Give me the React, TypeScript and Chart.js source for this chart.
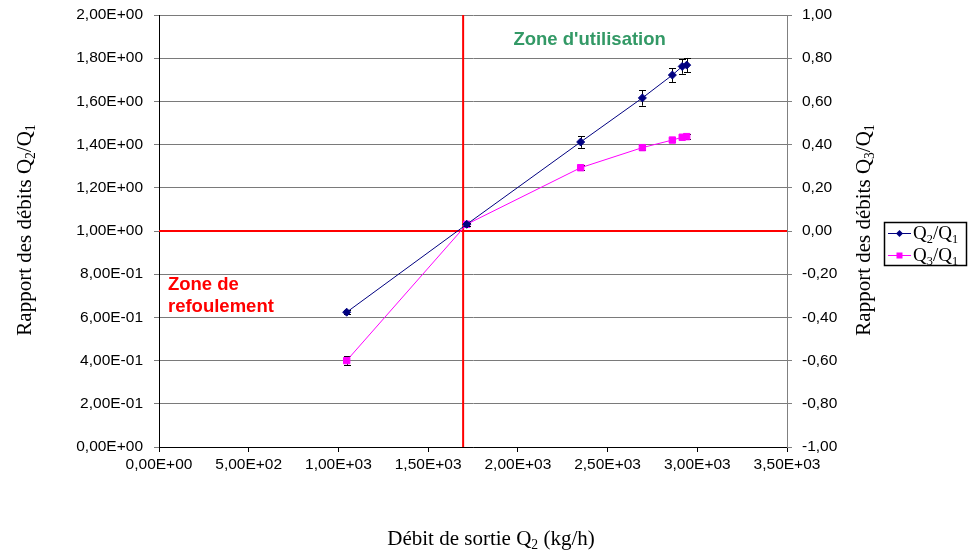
import React, { useEffect, useRef } from "react";
import { Chart, registerables } from "chart.js";

Chart.register(...registerables);

// ---- Data ----
const debitQ2 = [1046, 1715, 2350, 2694, 2861, 2916, 2941];
const rapportQ2Q1 = [0.624, 1.031, 1.412, 1.616, 1.722, 1.762, 1.768];
const rapportQ3Q1 = [-0.6, 0.031, 0.293, 0.386, 0.421, 0.434, 0.437];
const errQ2Q1 = [0.008, 0.008, 0.027, 0.036, 0.032, 0.034, 0.033];
const errQ3Q1 = [0.02, 0.008, 0.012, 0.01, 0.01, 0.01, 0.01];
const limiteDebit = 1695;
const limiteRapport = 1.0;

const xTicksRange = [0, 3500, 500];
const yLeftRange = [0, 2, 0.2];
const yRightRange = [-1, 1, 0.2];

const zoneUtilisation = { text: "Zone d'utilisation", x: 2400, y: 1.885 };
const zoneRefoulement = [
  { text: "Zone de", x: 50, y: 0.752 },
  { text: "refoulement", x: 50, y: 0.65 },
];

type Part = { t: string; sub?: boolean };
const leftTitle: Part[] = [{ t: "Rapport des débits Q" }, { t: "2", sub: true }, { t: "/Q" }, { t: "1", sub: true }];
const rightTitle: Part[] = [{ t: "Rapport des débits Q" }, { t: "3", sub: true }, { t: "/Q" }, { t: "1", sub: true }];
const bottomTitle: Part[] = [{ t: "Débit de sortie Q" }, { t: "2", sub: true }, { t: " (kg/h)" }];
const legendQ2: Part[] = [{ t: "Q" }, { t: "2", sub: true }, { t: "/Q" }, { t: "1", sub: true }];
const legendQ3: Part[] = [{ t: "Q" }, { t: "3", sub: true }, { t: "/Q" }, { t: "1", sub: true }];

const SERIF = "'Liberation Serif', 'Times New Roman', serif";
const SANS = "'Liberation Sans', Arial, sans-serif";

function sci(v: number): string {
  if (Math.abs(v) < 1e-12) return "0,00E+00";
  const [m, e] = v.toExponential(2).split("e");
  const n = parseInt(e, 10);
  return m.replace(".", ",") + "E" + (n < 0 ? "-" : "+") + String(Math.abs(n)).padStart(2, "0");
}
function dec(v: number): string {
  let r = Math.round(v * 100) / 100;
  if (Math.abs(r) < 1e-9) r = 0;
  return r.toFixed(2).replace(".", ",");
}

function richWidth(ctx: CanvasRenderingContext2D, parts: Part[], size: number) {
  let w = 0;
  for (const p of parts) {
    ctx.font = `${p.sub ? size * 0.65 : size}px ${SERIF}`;
    w += ctx.measureText(p.t).width;
  }
  return w;
}
function drawRich(ctx: CanvasRenderingContext2D, parts: Part[], x: number, cy: number, size: number, align: "left" | "center") {
  const w = richWidth(ctx, parts, size);
  let cx = align === "center" ? x - w / 2 : x;
  const base = cy + size * 0.33;
  ctx.textAlign = "left";
  ctx.textBaseline = "alphabetic";
  ctx.fillStyle = "#000";
  for (const p of parts) {
    const s = p.sub ? size * 0.65 : size;
    ctx.font = `${s}px ${SERIF}`;
    ctx.fillText(p.t, cx, p.sub ? base + size * 0.18 : base);
    cx += ctx.measureText(p.t).width;
  }
}

const errorBarsPlugin = {
  id: "errorBars",
  beforeDatasetDraw(chart: any, args: any) {
    const ds = chart.data.datasets[args.index];
    if (!ds.errors) return;
    const meta = args.meta;
    const yScale = chart.scales[ds.yAxisID];
    const ctx = chart.ctx;
    ctx.save();
    ctx.strokeStyle = "#000";
    ctx.lineWidth = 1;
    meta.data.forEach((pt: any, i: number) => {
      const v = ds.data[i].y;
      const e = ds.errors[i];
      const y1 = yScale.getPixelForValue(v + e);
      const y2 = yScale.getPixelForValue(v - e);
      const x = Math.round(pt.x) + 0.5;
      ctx.beginPath();
      ctx.moveTo(x, y1);
      ctx.lineTo(x, y2);
      ctx.moveTo(x - 3.5, Math.round(y1) + 0.5);
      ctx.lineTo(x + 3.5, Math.round(y1) + 0.5);
      ctx.moveTo(x - 3.5, Math.round(y2) + 0.5);
      ctx.lineTo(x + 3.5, Math.round(y2) + 0.5);
      ctx.stroke();
    });
    ctx.restore();
  },
};

const decorPlugin = {
  id: "decor",
  afterDraw(chart: any) {
    const ctx: CanvasRenderingContext2D = chart.ctx;
    const xs = chart.scales.x;
    const yl = chart.scales.y;
    ctx.save();
    // zone labels
    ctx.textBaseline = "middle";
    ctx.font = `bold 18.5px ${SANS}`;
    ctx.fillStyle = "#339966";
    ctx.textAlign = "center";
    ctx.fillText(zoneUtilisation.text, xs.getPixelForValue(zoneUtilisation.x), yl.getPixelForValue(zoneUtilisation.y));
    ctx.font = `bold 18.5px ${SANS}`;
    ctx.fillStyle = "#ff0000";
    ctx.textAlign = "left";
    for (const z of zoneRefoulement) {
      ctx.fillText(z.text, xs.getPixelForValue(z.x), yl.getPixelForValue(z.y));
    }
    // axis titles
    const ca = chart.chartArea;
    const midY = (ca.top + ca.bottom) / 2 - 1;
    ctx.save();
    ctx.translate(24, midY);
    ctx.rotate(-Math.PI / 2);
    drawRich(ctx, leftTitle, 0, 0, 21, "center");
    ctx.restore();
    ctx.save();
    ctx.translate(863, midY);
    ctx.rotate(-Math.PI / 2);
    drawRich(ctx, rightTitle, 0, 0, 21, "center");
    ctx.restore();
    drawRich(ctx, bottomTitle, 491, 538, 21, "center");
    // legend
    ctx.strokeStyle = "#000";
    ctx.lineWidth = 1.5;
    ctx.strokeRect(884.5, 222.5, 82, 43);
    const items = [
      { parts: legendQ2, ds: chart.data.datasets[0], y: 233 },
      { parts: legendQ3, ds: chart.data.datasets[1], y: 255 },
    ];
    for (const it of items) {
      ctx.strokeStyle = it.ds.borderColor;
      ctx.lineWidth = 1;
      ctx.beginPath();
      ctx.moveTo(888, it.y + 0.5);
      ctx.lineTo(911, it.y + 0.5);
      ctx.stroke();
      ctx.fillStyle = it.ds.pointBackgroundColor;
      ctx.beginPath();
      if (it.ds.pointStyle === "rectRot") {
        ctx.moveTo(899.5, it.y - 3);
        ctx.lineTo(903, it.y + 0.5);
        ctx.lineTo(899.5, it.y + 4);
        ctx.lineTo(896, it.y + 0.5);
        ctx.closePath();
      } else {
        ctx.rect(896.5, it.y - 2.5, 6, 6);
      }
      ctx.fill();
      drawRich(ctx, it.parts, 913, it.y, 19, "left");
    }
    ctx.restore();
  },
};

export default function App() {
  const ref = useRef<HTMLCanvasElement | null>(null);
  useEffect(() => {
    if (!ref.current) return;
    const tickFont = { family: SANS, size: 15.5 };
    const chart = new Chart(ref.current, {
      type: "line",
      data: {
        datasets: [
          {
            label: "Q2/Q1",
            data: debitQ2.map((x, i) => ({ x, y: rapportQ2Q1[i] })),
            yAxisID: "y",
            borderColor: "#000080",
            backgroundColor: "#000080",
            pointBackgroundColor: "#000080",
            pointBorderColor: "#000080",
            pointStyle: "rectRot",
            pointRadius: 4,
            borderWidth: 1,
            errors: errQ2Q1,
          } as any,
          {
            label: "Q3/Q1",
            data: debitQ2.map((x, i) => ({ x, y: rapportQ3Q1[i] })),
            yAxisID: "y1",
            borderColor: "#ff00ff",
            backgroundColor: "#ff00ff",
            pointBackgroundColor: "#ff00ff",
            pointBorderColor: "#ff00ff",
            pointStyle: "rect",
            pointRadius: 4.5,
            borderWidth: 1,
            errors: errQ3Q1,
          } as any,
          {
            label: "limite verticale",
            data: [
              { x: limiteDebit, y: yLeftRange[0] },
              { x: limiteDebit, y: yLeftRange[1] },
            ],
            yAxisID: "y",
            borderColor: "#ff0000",
            borderWidth: 2,
            pointRadius: 0,
          },
          {
            label: "limite horizontale",
            data: [
              { x: xTicksRange[0], y: limiteRapport },
              { x: xTicksRange[1], y: limiteRapport },
            ],
            yAxisID: "y",
            borderColor: "#ff0000",
            borderWidth: 2,
            pointRadius: 0,
          },
        ],
      },
      options: {
        responsive: false,
        animation: false,
        events: [],
        layout: { padding: { top: 15, left: 0, right: 0, bottom: 0 } },
        plugins: { legend: { display: false }, tooltip: { enabled: false }, title: { display: false } },
        elements: { line: { tension: 0 } },
        scales: {
          x: {
            type: "linear",
            min: xTicksRange[0],
            max: xTicksRange[1],
            ticks: { stepSize: xTicksRange[2], callback: (v: any) => sci(Number(v)), font: tickFont, color: "#000", padding: 3, maxRotation: 0 },
            grid: { drawOnChartArea: false, tickLength: 5, color: "#000" },
            border: { color: "#000" },
            afterFit: (s: any) => { s.height = 106; },
          },
          y: {
            type: "linear",
            position: "left",
            min: yLeftRange[0],
            max: yLeftRange[1],
            ticks: { stepSize: yLeftRange[2], callback: (v: any) => sci(Number(v)), font: tickFont, color: "#000", padding: 11 },
            grid: { color: "#7a7a7a", tickLength: 5 },
            border: { color: "#000" },
            afterFit: (s: any) => { s.width = 159; s.paddingTop = 0; s.paddingBottom = 0; },
          },
          y1: {
            type: "linear",
            position: "right",
            min: yRightRange[0],
            max: yRightRange[1],
            ticks: { stepSize: yRightRange[2], callback: (v: any) => dec(Number(v)), font: tickFont, color: "#000", padding: 10 },
            grid: { drawOnChartArea: false, tickLength: 5, color: "#808080" },
            border: { color: "#808080" },
            afterFit: (s: any) => { s.width = 181; s.paddingTop = 0; s.paddingBottom = 0; },
          },
        },
      } as any,
      plugins: [errorBarsPlugin, decorPlugin],
    });
    return () => chart.destroy();
  }, []);
  return (
    <div style={{ position: "absolute", left: 0, top: 0, width: 968, height: 553, background: "#fff" }}>
      <canvas ref={ref} width={968} height={553} style={{ display: "block" }} />
    </div>
  );
}
